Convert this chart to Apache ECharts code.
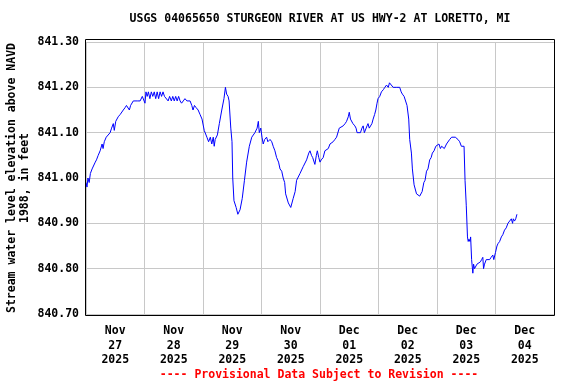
<!DOCTYPE html>
<html>
<head>
<meta charset="utf-8">
<script src="https://cdn.jsdelivr.net/npm/echarts@6/dist/echarts.min.js"></script>
<style>
html,body{margin:0;padding:0;background:#fff;}
#chart{width:576px;height:384px;}
</style>
</head>
<body>
<div id="chart"></div>
<script>
// Hours since 2025-11-27 00:00 and gage height (ft, NAVD 1988)
const hoursSinceNov27 = [
0.0,0.4,0.8,1.3,1.8,2.5,3.2,3.8,4.3,5.0,5.8,6.6,7.0,7.5,8.3,9.0,9.9,10.5,11.2,11.6,12.2,13.2,14.0,15.3,16.0,16.6,17.3,17.8,18.3,19.4,21.0,22.2,23.1,23.8,24.2,24.6,25.1,25.6,26.2,26.8,27.4,28.0,28.6,29.2,29.8,30.4,31.0,31.6,32.2,33.0,33.7,34.3,35.0,35.6,36.2,36.8,37.4,38.0,38.6,39.2,39.9,40.6,41.4,42.7,43.4,43.9,44.5,45.2,46.0,46.8,47.6,48.5,49.6,50.3,51.0,51.6,52.2,52.6,53.0,53.9,54.7,55.7,56.6,57.2,57.7,58.3,58.7,59.4,59.9,60.2,60.7,61.6,62.3,63.2,64.1,65.0,65.9,67.0,68.0,69.3,70.2,70.7,71.1,71.7,72.2,72.7,73.3,74.1,74.6,75.5,76.2,76.8,77.5,78.2,79.0,79.6,80.3,80.9,81.5,81.9,83.0,84.0,85.0,85.8,86.4,87.8,89.1,90.5,91.4,91.9,92.5,93.0,93.9,94.5,94.9,95.5,96.0,96.5,97.3,98.0,98.7,99.4,100.1,101.4,102.1,102.8,103.9,104.6,105.5,106.3,106.9,107.6,108.0,108.5,108.9,109.5,110.3,110.8,111.2,112.6,113.2,113.7,114.2,114.8,115.3,115.7,116.2,116.7,117.3,117.8,118.4,118.9,119.4,119.8,120.5,121.2,122.0,122.6,123.3,124.0,124.5,125.3,126.0,126.7,127.5,128.7,129.3,129.8,130.5,131.2,131.7,132.4,132.8,133.5,133.9,134.6,135.6,136.9,137.4,137.9,138.6,139.1,139.7,140.3,141.0,141.6,142.1,142.8,143.5,144.1,144.8,145.4,145.9,146.5,147.0,147.9,148.5,149.2,150.0,150.6,151.5,152.6,153.3,154.0,155.1,155.5,156.0,156.5,156.8,157.1,157.5,157.8,158.2,158.7,159.0,159.4,160.4,161.1,161.8,162.3,162.8,163.1,163.5,164.2,164.9,165.6,166.2,166.9,167.3,168.0,168.6,169.0,169.7,170.4,171.0,171.7,172.4,173.1,173.8,174.5,175.0,175.3,175.8,176.3,176.8
];
const levelFt = [
840.99,840.98,841.00,840.99,841.01,841.02,841.02,841.035,841.04,841.05,841.06,841.075,841.065,841.08,841.09,841.09,841.10,841.11,841.12,841.105,841.125,841.135,841.14,841.15,841.155,841.16,841.16,841.15,841.16,841.17,841.17,841.17,841.18,841.18,841.165,841.19,841.18,841.19,841.175,841.19,841.18,841.19,841.175,841.19,841.175,841.19,841.18,841.19,841.18,841.18,841.17,841.18,841.17,841.18,841.17,841.18,841.17,841.18,841.17,841.165,841.17,841.175,841.17,841.17,841.16,841.15,841.16,841.155,841.15,841.14,841.13,841.105,841.09,841.08,841.09,841.075,841.09,841.07,841.085,841.095,841.12,841.15,841.175,841.20,841.185,841.18,841.17,841.11,841.08,841.00,840.95,840.935,840.92,840.93,840.955,840.995,841.035,841.07,841.09,841.10,841.11,841.125,841.10,841.11,841.09,841.075,841.085,841.09,841.08,841.085,841.08,841.07,841.06,841.045,841.035,841.02,841.015,841.00,840.99,840.965,840.945,840.935,840.955,840.97,840.995,841.01,841.025,841.04,841.055,841.06,841.05,841.045,841.03,841.05,841.06,841.045,841.035,841.04,841.045,841.06,841.06,841.065,841.075,841.08,841.085,841.09,841.11,841.11,841.115,841.12,841.125,841.135,841.145,841.13,841.13,841.12,841.115,841.11,841.10,841.10,841.11,841.115,841.10,841.10,841.115,841.12,841.11,841.11,841.12,841.13,841.14,841.15,841.165,841.175,841.18,841.19,841.195,841.20,841.205,841.20,841.21,841.21,841.20,841.20,841.20,841.20,841.19,841.185,841.18,841.18,841.16,841.13,841.085,841.055,841.02,840.985,840.965,840.96,840.96,840.97,840.99,840.995,841.015,841.02,841.04,841.045,841.055,841.06,841.07,841.07,841.075,841.065,841.07,841.07,841.065,841.075,841.075,841.085,841.09,841.09,841.09,841.085,841.08,841.07,841.07,840.995,840.94,840.87,840.86,840.865,840.86,840.87,840.82,840.79,840.81,840.80,840.81,840.81,840.815,840.82,840.825,840.80,840.81,840.82,840.82,840.82,840.825,840.83,840.82,840.836,840.85,840.855,840.86,840.87,840.875,840.885,840.89,840.90,840.905,840.91,840.90,840.91,840.905,840.91,840.92
];
const dayLabels = ["Nov\n27\n2025","Nov\n28\n2025","Nov\n29\n2025","Nov\n30\n2025","Dec\n01\n2025","Dec\n02\n2025","Dec\n03\n2025","Dec\n04\n2025"];
const chartTitle = "USGS 04065650 STURGEON RIVER AT US HWY-2 AT LORETTO, MI";
const yTitle = "Stream water level elevation above NAVD\n1988, in feet";
const footer = "---- Provisional Data Subject to Revision ----";

const FONT = '"DejaVu Sans Mono", monospace';
const chart = echarts.init(document.getElementById('chart'), null, {renderer: 'canvas'});
chart.setOption({
  animation: false,
  backgroundColor: '#ffffff',
  grid: {left: 86, right: 22, top: 42, bottom: 70, containLabel: false, outerBoundsMode: 'none'},
  graphic: [
    {type: 'rect', shape: {x: 85.5, y: 39.5, width: 469, height: 276}, style: {fill: null, stroke: '#000', lineWidth: 1}, z: 100},
    {type: 'text', x: 320, y: 19, style: {text: chartTitle, font: 'bold 11.5px ' + FONT, fill: '#000', align: 'center', verticalAlign: 'middle'}},
    {type: 'text', x: 319, y: 375, style: {text: footer, font: 'bold 11.5px ' + FONT, fill: '#ff0000', align: 'center', verticalAlign: 'middle'}}
  ],
  xAxis: [
    {type: 'value', min: 0, max: 192, interval: 24,
     axisLine: {show: false}, axisTick: {show: false}, axisLabel: {show: false},
     splitLine: {show: true, lineStyle: {color: '#c8c8c8', width: 1}}},
    {type: 'category', data: dayLabels, position: 'bottom', boundaryGap: true,
     axisLine: {show: false}, axisTick: {show: false}, splitLine: {show: false},
     axisLabel: {color: '#000', fontFamily: FONT, fontWeight: 'bold', fontSize: 11.5, lineHeight: 14.5, margin: 10, interval: 0}}
  ],
  yAxis: {
    type: 'value', min: 840.7, max: 841.3, interval: 0.1,
    axisLine: {show: false}, axisTick: {show: false},
    splitLine: {show: true, lineStyle: {color: '#c8c8c8', width: 1}},
    axisLabel: {color: '#000', fontFamily: FONT, fontWeight: 'bold', fontSize: 11.5, margin: 7,
      formatter: v => v.toFixed(2)},
    name: yTitle, nameLocation: 'middle', nameGap: 54, nameRotate: 90, nameMoveOverlap: false,
    nameTextStyle: {color: '#000', fontFamily: FONT, fontWeight: 'bold', fontSize: 11.5, lineHeight: 13}
  },
  series: [{
    type: 'line', xAxisIndex: 0, yAxisIndex: 0,
    data: hoursSinceNov27.map((h, i) => [h, levelFt[i]]),
    showSymbol: false, symbol: 'none',
    lineStyle: {color: '#0000ff', width: 1},
    clip: true
  }]
});
</script>
</body>
</html>
